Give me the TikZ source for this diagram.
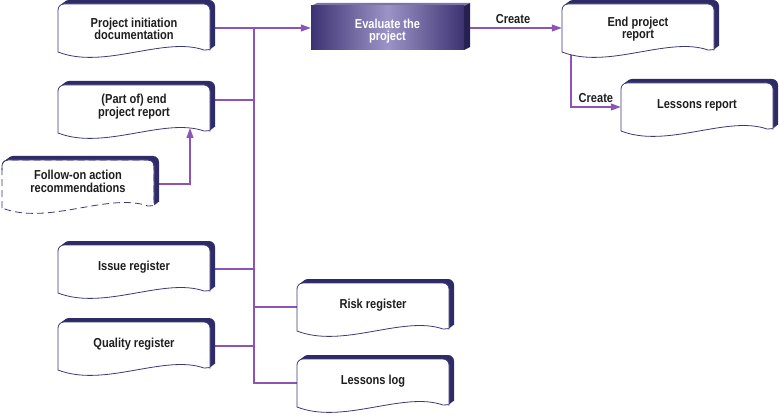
\documentclass[tikz,border=0pt]{standalone}
\usepackage{fontspec}
\setmainfont{Liberation Sans}[FakeStretch=0.85]
\usetikzlibrary{arrows.meta,backgrounds}

\definecolor{linkcol}{HTML}{8C55B5}
\definecolor{shadecol}{HTML}{2F2B66}
\definecolor{edgecol}{HTML}{3B3878}
\definecolor{txtcol}{HTML}{1E1E1E}
\definecolor{evdark}{HTML}{3D3373}
\definecolor{evlight}{HTML}{9C94C6}
\definecolor{evside}{HTML}{262050}
\definecolor{evtop}{HTML}{7B74A8}

\tikzset{
  boxfont/.style={font=\fontsize{13}{12.5}\selectfont\bfseries},
  doctext/.style={boxfont, text=txtcol, align=center},
  docnode/.style={minimum width=152pt, minimum height=48pt, inner sep=0pt},
  docface/.style={fill=white, draw=edgecol, line width=0.8pt},
  docshade/.style={fill=shadecol},
  link/.style={draw=linkcol, line width=1.1pt},
  evalbox/.style={minimum width=153pt, minimum height=44pt,
    left color=evdark, right color=evdark, middle color=evlight},
  evaltext/.style={boxfont, text=white, align=center},
  >={Triangle[length=10pt,width=7pt]},
}

\newcommand{\docshape}[2]{%
  [rounded corners=6pt] (#1-76,#2+24)--(#1-76,#2-24)--(#1+76,#2-24)--(#1+76,#2+16)
  [sharp corners] .. controls (#1+76,#2+21) and (#1+74,#2+22) .. (#1+70,#2+22)
  .. controls (#1+30,#2+8) and (#1-30,#2+42) .. (#1-76,#2+24)--cycle}

% [face style]{name}{x}{y}{text offset}{text}
\newcommand{\docbox}[6][]{%
  \foreach \k in {1,...,5}{\fill[docshade,shift={(\k,-0.8*\k)}] \docshape{#3}{#4};}
  \filldraw[docface,#1] \docshape{#3}{#4};
  \node[docnode] (#2) at (#3,#4) {};
  \node[doctext] at (#3,#4+#5) {#6};
}

\begin{document}
\begin{tikzpicture}[x=1pt,y=-1pt]
\useasboundingbox (0,0) rectangle (779,417);

\docbox{pid}{134}{28}{1}{Project initiation\\documentation}

\docbox{per}{134}{109}{-2.5}{(Part of) end\\project report}

\docbox[dash pattern=on 7pt off 4pt]{fol}{78}{184}{-2.5}{Follow-on action\\recommendations}
\draw[draw=edgecol,line width=0.8pt,rounded corners=6pt] (2,170)--(2,160)--(154,160)--(154,200);

\docbox{iss}{134}{269}{-2}{Issue register}

\docbox{qual}{134}{346}{-2}{Quality register}

\docbox{risk}{373}{307}{-2}{Risk register}

\docbox{ll}{373}{383}{-2}{Lessons log}

\docbox{epr}{638}{28}{1}{End project\\report}

\docbox{lr}{697}{107}{-2}{Lessons report}

\fill[evtop] (311,6)--(317,3)--(470,3)--(464,6)--cycle;
\fill[evside] (464,6)--(470,3)--(470,47)--(464,50)--cycle;
\node[evalbox] (eval) at (387.5,28) {};
\node[evaltext] at (387.5,31) {Evaluate the\\project};

\coordinate (bus) at (254,28);
\coordinate (perin) at (190,128);
\coordinate (eprout) at (571,50);

\begin{scope}[on background layer]
\draw[link,->] (pid.east)--(eval.west);
\draw[link] ([yshift=9pt]per.east)-|(bus);
\draw[link,->] (fol.east)-|(perin);
\draw[link] (iss.east)-|(bus);
\draw[link] (qual.east)-|(bus);
\draw[link] (bus)|-(risk.west);
\draw[link] (bus)|-(ll.west);
\draw[link,->] (eval.east)--node[above,doctext]{Create}(epr.west);
\draw[link,->] (eprout)|-node[pos=0.75,above,doctext]{Create}(lr.west);
\end{scope}
\end{tikzpicture}
\end{document}
